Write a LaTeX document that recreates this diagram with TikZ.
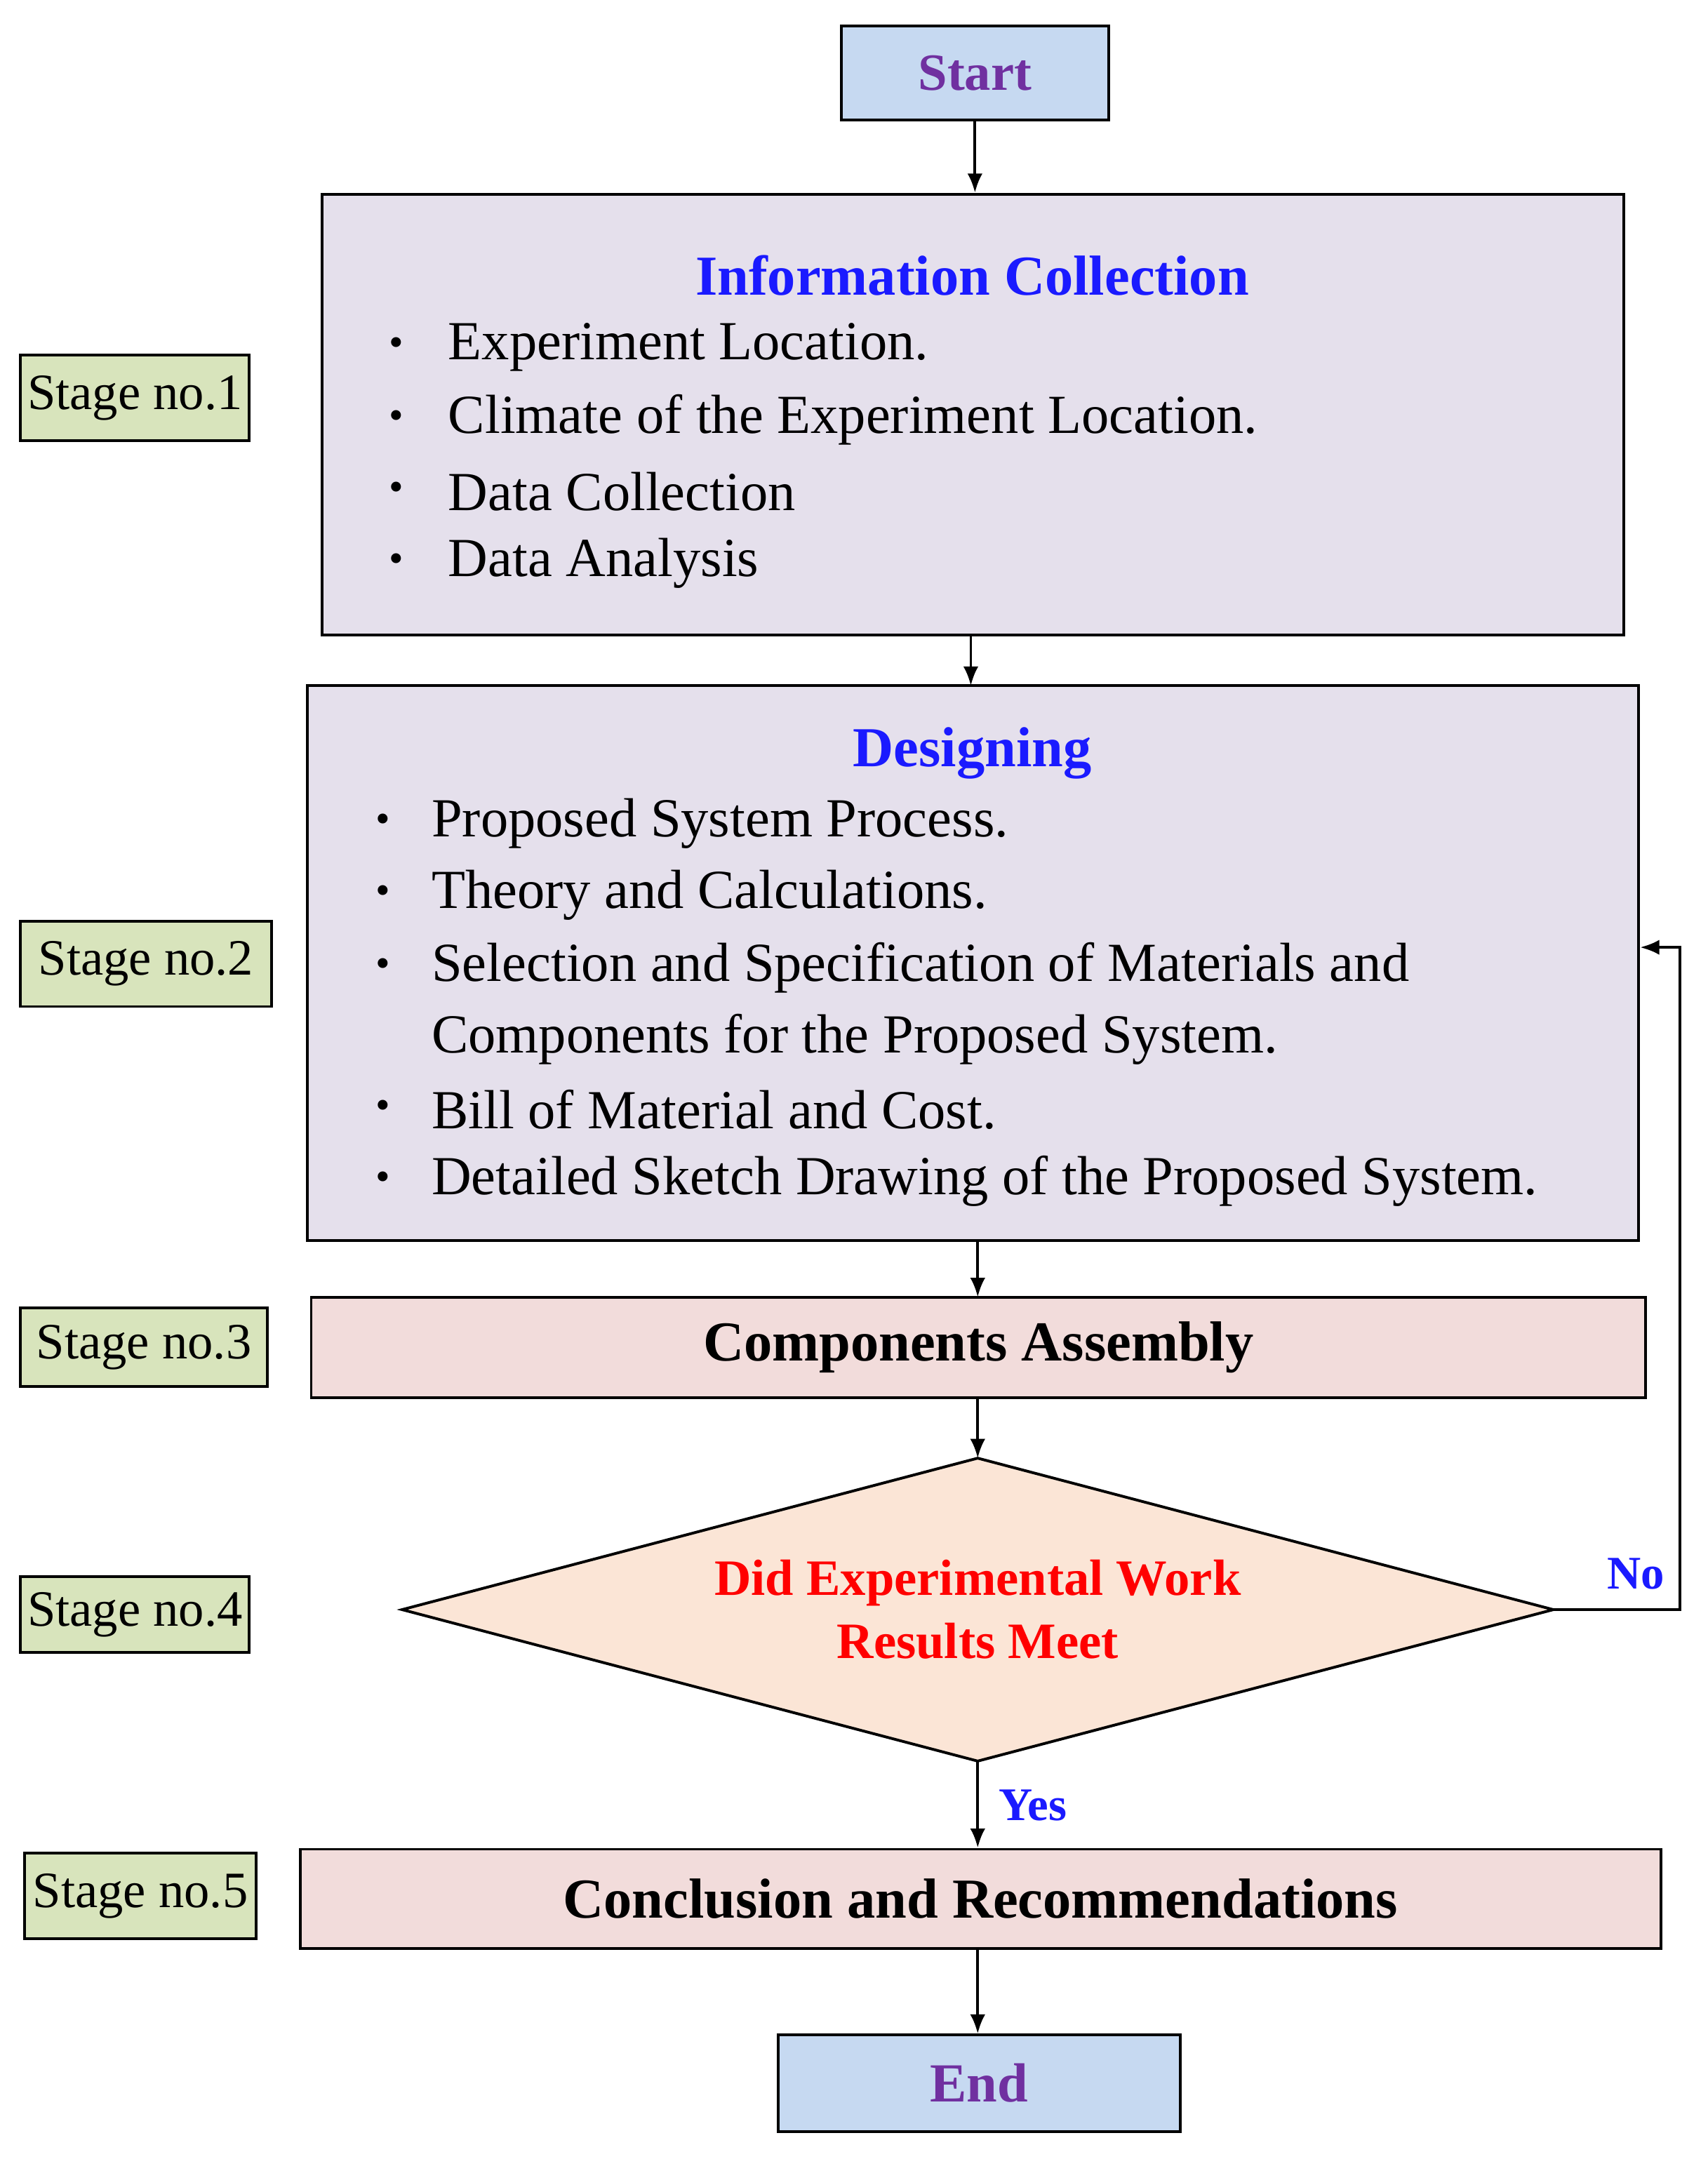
\documentclass[tikz,border=0pt]{standalone}
\usepackage{fontspec}
\setmainfont{Liberation Serif}
\usetikzlibrary{arrows.meta}
\definecolor{sblue}{HTML}{C6D9F1}
\definecolor{spurp}{HTML}{7030A0}
\definecolor{slav}{HTML}{E5E0EC}
\definecolor{spink}{HTML}{F2DCDB}
\definecolor{speach}{HTML}{FBE5D6}
\definecolor{sgreen}{HTML}{D8E4BC}
\definecolor{tblue}{HTML}{1A1AFF}
\tikzset{
 box/.style={draw,line width=2pt,inner sep=0},
 ln/.style={line width=2pt,-{Latex[length=14pt,width=11pt]}},
 stg/.style={draw,line width=2pt,fill=sgreen,inner sep=0,font=\fontsize{37}{42}\selectfont},
 bt/.style={anchor=west,font=\fontsize{40}{46}\selectfont},
 bul/.style={font=\fontsize{30}{35}\selectfont},
}
\begin{document}
\begin{tikzpicture}[x=1pt,y=-1pt]
\useasboundingbox (0,0) rectangle (1240,1568);
% start
\node[box,fill=sblue,minimum width=194pt,minimum height=68pt,text=spurp,font=\bfseries\fontsize{38}{42}\selectfont] (start) at (708,53) {Start};
% info
\node[box,fill=slav,minimum width=945pt,minimum height=320pt] (info) at (706.5,301) {};
\node[text=tblue,font=\bfseries\fontsize{41}{46}\selectfont] (it) at (706,200) {Information Collection};
\foreach \y/\t [count=\i] in {252/Experiment Location.,305/Climate of the Experiment Location.,357/Data Collection,409/Data Analysis}{
 \node[bul] (ib\i) at (288,\y) {\textbullet};
 \node[bt] (it\i) at (322,\y) {\t};
}
% design
\node[box,fill=slav,minimum width=967pt,minimum height=403pt] (des) at (706.5,699.5) {};
\node[text=tblue,font=\bfseries\fontsize{41}{46}\selectfont] (dt) at (706,547) {Designing};
\foreach \y/\t [count=\i] in {598/Proposed System Process.,650/Theory and Calculations.,703/Selection and Specification of Materials and,806/Bill of Material and Cost.,858/Detailed Sketch Drawing of the Proposed System.}{
 \node[bul] (db\i) at (278,\y) {\textbullet};
 \node[bt] (dt\i) at (310,\y) {\t};
}
\node[bt] (dt6) at (310,755) {Components for the Proposed System.};
% components
\node[box,fill=spink,minimum width=969pt,minimum height=73pt,font=\bfseries\fontsize{41}{46}\selectfont] (comp) at (710.5,978.5) {Components Assembly};
% diamond
\coordinate (dT) at (710,1059);
\coordinate (dB) at (710,1279);
\coordinate (dL) at (292,1169);
\coordinate (dR) at (1128,1169);
\draw[line width=2pt,fill=speach] (dT)--(dR)--(dB)--(dL)--cycle;
\node[text=red,align=center,font=\bfseries\fontsize{37}{46}\selectfont] (dq) at (710,1169) {Did Experimental Work\\Results Meet};
% conclusion
\node[box,fill=spink,minimum width=988pt,minimum height=72pt,font=\bfseries\fontsize{41}{46}\selectfont] (conc) at (712,1379) {Conclusion and Recommendations};
% end
\node[box,fill=sblue,minimum width=292pt,minimum height=70pt,text=spurp,font=\bfseries\fontsize{40}{46}\selectfont] (endn) at (711,1513) {End};
% stages
\node[stg,minimum width=166pt,minimum height=62pt] (s1) at (98,289) {Stage no.1};
\node[stg,minimum width=182pt,minimum height=62pt] (s2) at (106,700) {Stage no.2};
\node[stg,minimum width=179pt,minimum height=57pt] (s3) at (104.5,978.5) {Stage no.3};
\node[stg,minimum width=166pt,minimum height=55pt] (s4) at (98,1172.5) {Stage no.4};
\node[stg,minimum width=168pt,minimum height=62pt] (s5) at (102,1377) {Stage no.5};
% arrows
\draw[ln] (start.south) -- (start.south|-info.north);
\draw[ln] (info.south-|705,0) -- (705,498);
\draw[ln] (des.south-|710,0) -- (710,942);
\draw[ln] (comp.south-|710,0) -- (dT);
\draw[ln] (dB) -- (conc.north-|dB);
\draw[ln] (conc.south-|710,0) -- (endn.north-|710,0);
\coordinate (lp) at (1220,688);
\draw[ln] (dR) -- (dR-|lp) -- (lp) -- (des.east|-lp);
\node[text=tblue,font=\bfseries\fontsize{34}{38}\selectfont] (no) at (1188,1143) {No};
\node[text=tblue,font=\bfseries\fontsize{34}{38}\selectfont] (yes) at (750,1311) {Yes};
\end{tikzpicture}
\end{document}
